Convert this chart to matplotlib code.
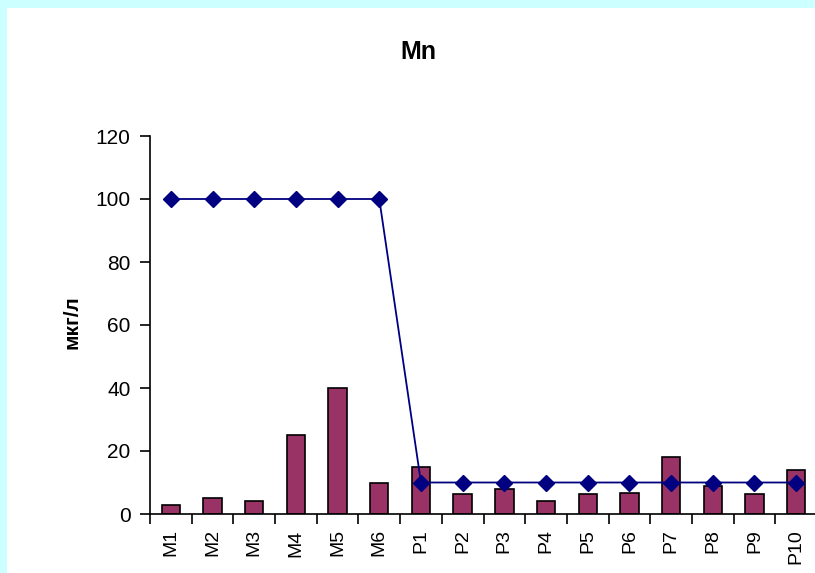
import numpy as np
import matplotlib.pyplot as plt
from matplotlib.patches import Rectangle

plt.rcParams['font.family'] = ['Liberation Sans', 'DejaVu Sans']

sites = ["M1", "M2", "M3", "M4", "M5", "M6",
         "P1", "P2", "P3", "P4", "P5", "P6", "P7", "P8", "P9", "P10"]
mn_values = [3, 5, 4, 25, 40, 9.8,
             15, 6.3, 7.8, 4.1, 6.3, 6.8, 18.1, 8.9, 6.3, 14]
mn_limit = [100, 100, 100, 100, 100, 100,
            10, 10, 10, 10, 10, 10, 10, 10, 10, 10]

W, H = 815, 573
fig = plt.figure(figsize=(W / 100, H / 100), dpi=100)
fig.patch.set_facecolor("#ccffff")
fig.add_artist(Rectangle((7 / W, 0), 1, 1 - 8 / H, transform=fig.transFigure,
                         facecolor="white", edgecolor="none", zorder=0))

ax = fig.add_axes([150 / W, 1 - 514 / H, 667 / W, 378 / H])
ax.patch.set_visible(False)

x = np.arange(len(sites))
ax.bar(x, mn_values, width=0.44, color="#993366", edgecolor="black",
       linewidth=1.2, zorder=2)
ax.plot(x, mn_limit, color="#000080", linewidth=1.3, marker="D",
        markersize=8, zorder=3)

ax.set_xlim(-0.5, len(sites) - 0.5)
ax.set_ylim(0, 120)
ax.set_yticks(np.arange(0, 121, 20))
ax.set_xticks(x)
ax.set_xticklabels(sites, rotation=90)
ax.set_xticks(np.arange(-0.5, len(sites), 1), minor=True)
ax.tick_params(axis="x", which="major", length=0, pad=11, labelsize=14)
ax.tick_params(axis="x", which="minor", length=7, width=1.2, direction="out")
ax.tick_params(axis="y", length=7, width=1.2, labelsize=15, pad=7)

for side in ("top", "right"):
    ax.spines[side].set_visible(False)
for side in ("left", "bottom"):
    ax.spines[side].set_linewidth(1.2)

fig.text(418 / W, 1 - 52 / H, "Mn", ha="center", va="center",
         fontsize=18, fontweight="bold")
fig.text(72 / W, 1 - 322 / H, "мкг/л", ha="center", va="center",
         rotation=90, fontsize=15, fontweight="bold")

fig.savefig("out.png", dpi=100)
